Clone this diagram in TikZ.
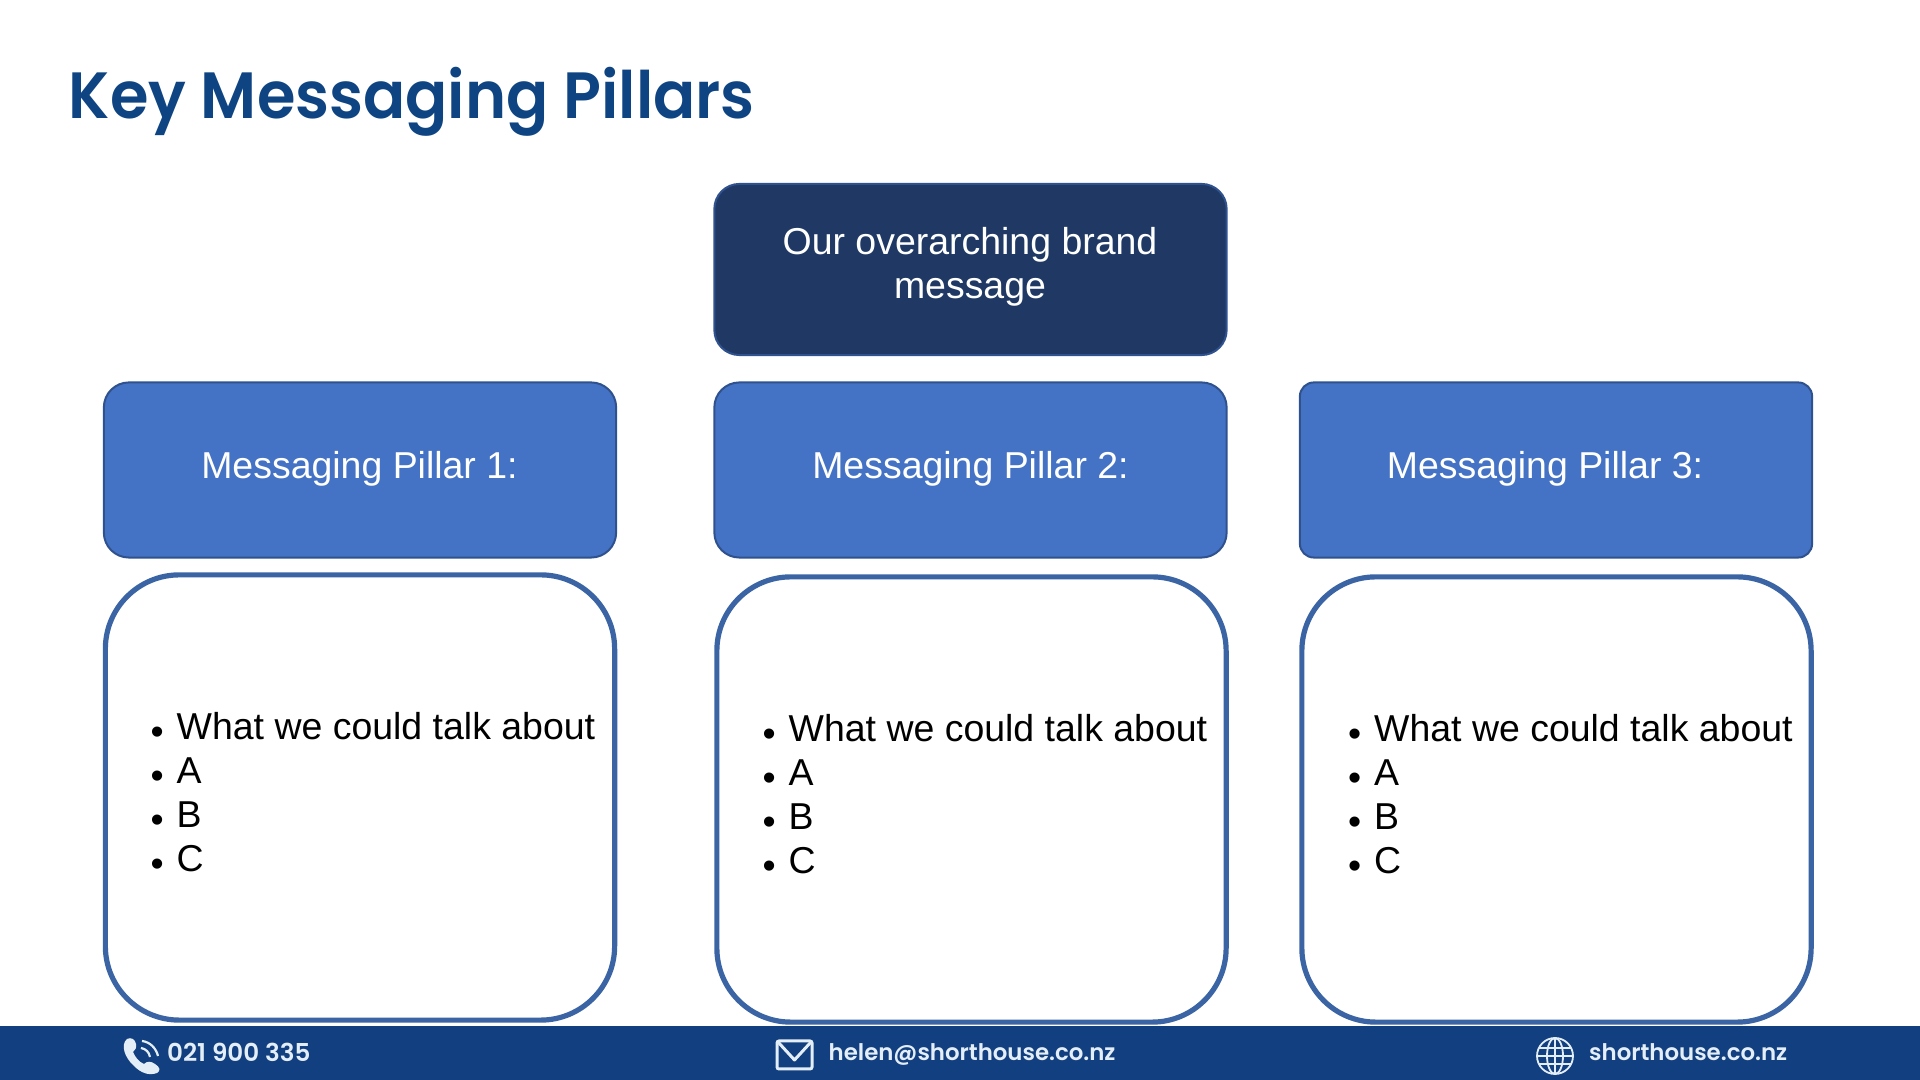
\documentclass[tikz,border=0pt]{standalone}
\usepackage{fontspec}
\setmainfont{Liberation Sans}
\newfontfamily\poppins[BoldFont={Poppins SemiBold}]{Poppins}
\newfontfamily\titlefont[FakeStretch=0.953,BoldFont={Poppins SemiBold}]{Poppins}
\usetikzlibrary{calc}

\definecolor{titleblue}{HTML}{0F4482}
\definecolor{bandblue}{HTML}{123F7F}
\definecolor{brandblue}{HTML}{1F3864}
\definecolor{pillarblue}{HTML}{4472C4}
\definecolor{pillaredge}{HTML}{2F528F}
\definecolor{paneledge}{HTML}{3A64A3}
\definecolor{iconwhite}{HTML}{E4EEF6}

\tikzset{
  brandbox/.style={draw=pillaredge,line width=0.02cm,fill=brandblue,rounded corners=0.25cm,minimum width=5.12cm,minimum height=1.71cm},
  pillarbox/.style={draw=pillaredge,line width=0.02cm,fill=pillarblue,rounded corners=0.25cm,minimum width=5.12cm,minimum height=1.75cm},
  panelbox/.style={draw=paneledge,line width=0.052cm,fill=white,rounded corners=0.74cm,minimum height=4.45cm},
  boxtext/.style={text=white,inner sep=0,anchor=base,align=center,font=\fontsize{10.65pt}{12.52pt}\selectfont},
  listtext/.style={text=black,inner sep=0,anchor=north west,align=left,font=\fontsize{10.65pt}{12.52pt}\selectfont},
  bandtext/.style={text=iconwhite,inner sep=0,anchor=base west,font=\poppins\bfseries\fontsize{6.5pt}{8pt}\selectfont},
  icon/.style={draw=iconwhite,line width=0.022cm}
}

\newcommand{\listdot}{\makebox[7.4pt][l]{\raisebox{-1.2pt}{\textbullet}}}
\newcommand{\listlines}{\listdot What we could talk about\\\listdot A\\\listdot B\\\listdot C}

\begin{document}
\begin{tikzpicture}[x=0.01cm,y=-0.01cm]
\useasboundingbox (0,0) rectangle (1920,1080);

\node[inner sep=0,anchor=base west,text=titleblue,font=\titlefont\bfseries\fontsize{18.6pt}{22pt}\selectfont] (title) at (68,119) {Key Messaging Pillars};

% top box
\node[brandbox] (brand) at (970.5,269.5) {};
\node[boxtext] (brandtext) at (970,299) {Our overarching brand\\message};

% pillars
\node[pillarbox] (pillarA) at (360,470) {};
\node[pillarbox] (pillarB) at (970.5,470) {};
\node[pillarbox,rounded corners=0.14cm] (pillarC) at (1556,470) {};
\node[boxtext] (pillarAtext) at (359.5,479) {Messaging Pillar 1:};
\node[boxtext] (pillarBtext) at (970.5,479) {Messaging Pillar 2:};
\node[boxtext] (pillarCtext) at (1545,479) {Messaging Pillar 3:};

% panels under the pillars
\node[panelbox,minimum width=5.09cm] (panelA) at (360,797.5) {};
\node[panelbox,minimum width=5.09cm] (panelB) at (971.5,799.5) {};
\node[panelbox,minimum width=5.09cm] (panelC) at (1556.5,799.5) {};
\node[listtext] (listA) at (150,712) {\listlines};
\node[listtext] (listB) at (762,714) {\listlines};
\node[listtext] (listC) at (1347.5,714) {\listlines};

% footer
\fill[bandblue] (0,1026) rectangle (1920,1080);
\node[bandtext,font=\poppins\bfseries\fontsize{7pt}{8pt}\selectfont] (phone) at (166.5,1062) {021 900 335};
\node[bandtext] (mail) at (828,1061) {helen@shorthouse.co.nz};
\node[bandtext] (web) at (1588.5,1061) {shorthouse.co.nz};

% phone icon
\fill[iconwhite] (127,1039) .. controls (131,1037) and (135,1039) .. (136,1044)
  .. controls (137,1048) and (135,1050) .. (133,1052)
  .. controls (135,1057) and (139,1062) .. (144,1064)
  .. controls (147,1061) and (151,1061) .. (155,1064)
  .. controls (160,1067) and (161,1071) .. (157,1073)
  .. controls (149,1076) and (141,1073) .. (134,1066)
  .. controls (125,1058) and (120,1045) .. (127,1039) -- cycle;
\draw[icon] (141,1048) .. controls (146,1049) and (149,1052) .. (150,1057);
\draw[icon] (142,1041) .. controls (150,1042) and (156,1048) .. (158,1056);

% mail icon
\draw[icon,line width=0.03cm,rounded corners=0.02cm] (777,1041) rectangle (812,1069);
\draw[icon,line width=0.03cm,line join=round] (778,1042) -- (794.5,1060) -- (811,1042);

% web icon
\begin{scope}[shift={(1555,1056)}]
\draw[icon,line width=0.018cm] (0,0) circle [radius=18];
\draw[icon,line width=0.018cm] (0,0) ellipse [x radius=8,y radius=18];
\draw[icon,line width=0.018cm] (0,-18) -- (0,18) (-18,0) -- (18,0);
\draw[icon,line width=0.018cm] (-16,-8) -- (16,-8) (-16,8) -- (16,8);
\end{scope}
\end{tikzpicture}
\end{document}
